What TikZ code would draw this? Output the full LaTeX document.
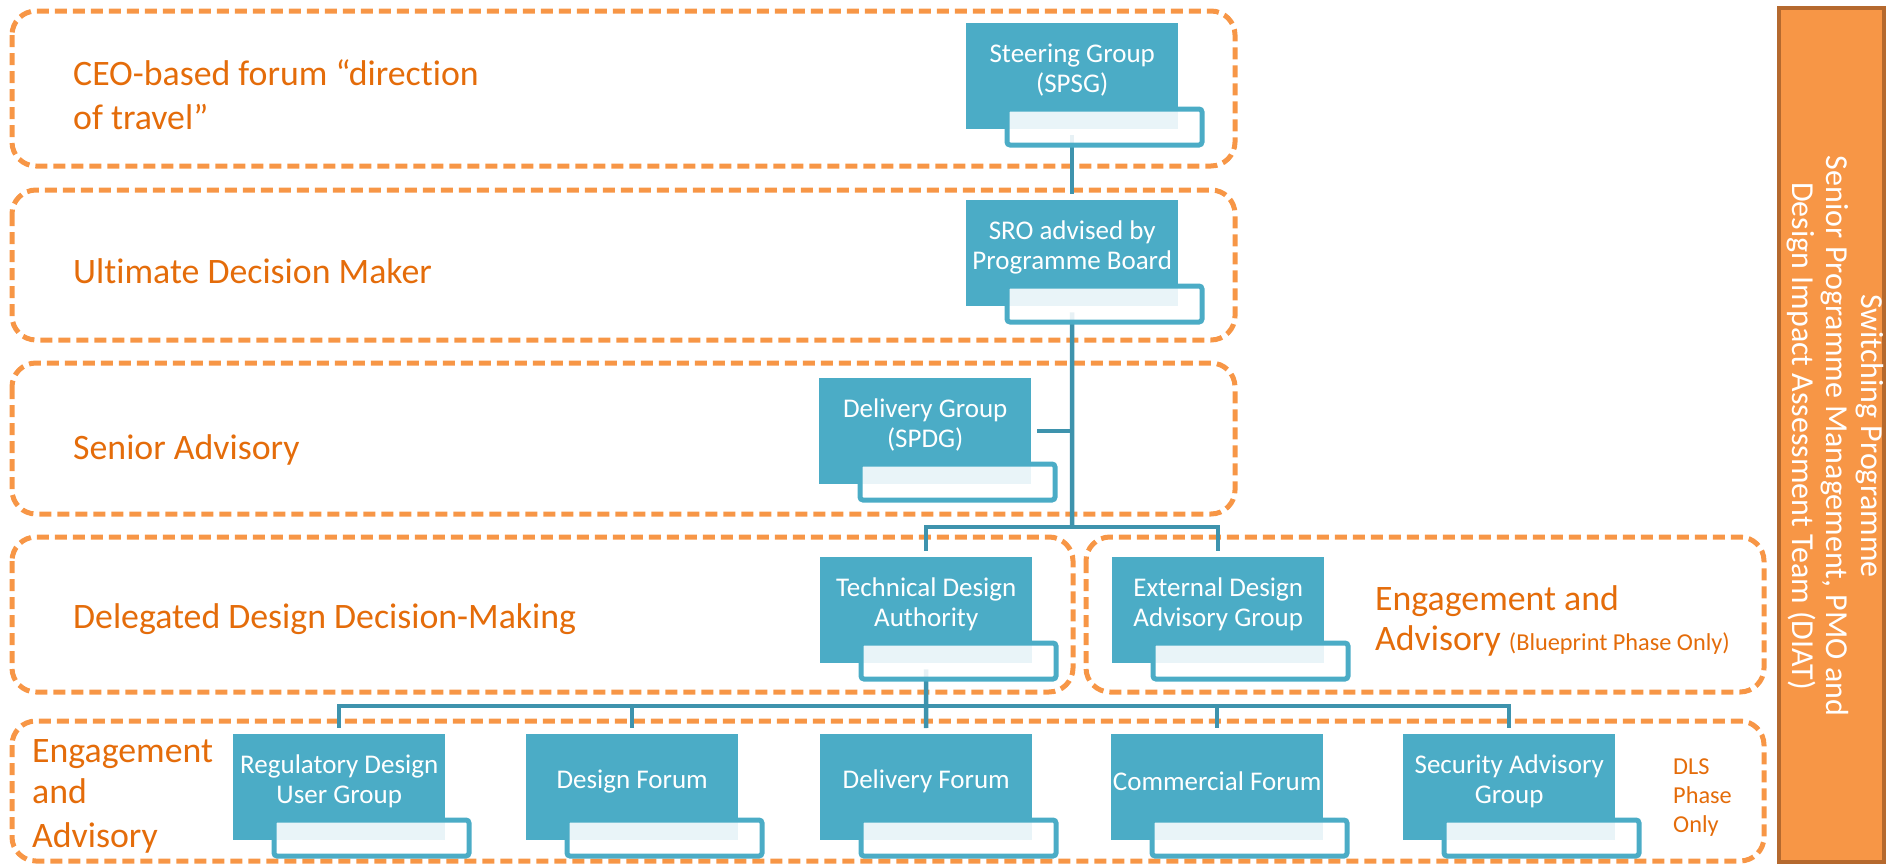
\documentclass[tikz,border=0pt]{standalone}
\usepackage{fontspec}
\setmainfont[Ligatures=NoCommon]{Carlito}
\usetikzlibrary{calc}
\pgfdeclarelayer{bg}
\pgfsetlayers{bg,main}

\definecolor{boxblue}{HTML}{4BACC6}
\definecolor{linkblue}{HTML}{3E93AD}
\definecolor{bandorange}{HTML}{F79646}
\definecolor{labelorange}{HTML}{E46C0A}
\definecolor{paneledge}{HTML}{B5692E}

\tikzset{
  band/.style={draw=bandorange, line width=5pt, dash pattern=on 12pt off 6pt, rounded corners=24pt},
  mainbox/.style={rectangle, fill=boxblue, minimum width=212pt, minimum height=106pt, inner sep=0pt, anchor=north west},
  boxtext/.style={text=white, align=center, font=\fontsize{27}{30.5}\selectfont, inner sep=0pt},
  subbox/.style={draw=boxblue, line width=5pt, fill=white, fill opacity=0.88, rounded corners=3pt},
  link/.style={draw=linkblue, line width=4.5pt},
  tierlabel/.style={text=labelorange, font=\fontsize{35.8}{42}\selectfont, anchor=base west, inner sep=0pt},
  smalllabel/.style={text=labelorange, font=\fontsize{24.3}{29}\selectfont, anchor=base west, inner sep=0pt},
  paneltext/.style={text=white, align=center, rotate=-90, font=\fontsize{32}{34.5}\selectfont, inner sep=0pt},
}

% main box with its caption and the offset name plate below it
\newcommand\orgbox[4]{%
  \node[mainbox] (#1) at (#2,#3) {};
  \node[boxtext] (#1-text) at ([yshift=6pt]#1.center) {#4};
  \path[subbox] ([xshift=41pt,yshift=-86pt]#1.north west) rectangle ([xshift=236pt,yshift=-122pt]#1.north west);
}

\begin{document}
\begin{tikzpicture}[x=1pt,y=-1pt]
\useasboundingbox (0,0) rectangle (1887,865);

% side panel
\draw[fill=bandorange, draw=paneledge, line width=4pt] (1779,8) rectangle (1884,862);
\node[paneltext] (panel) at (1835,436) {Switching Programme\\Senior Programme Management, PMO and\\Design Impact Assessment Team (DIAT)};

% tier labels
\node[tierlabel] (ceo1) at (73,85) {CEO-based forum “direction};
\node[tierlabel] (ceo2) at (73,129) {of travel”};
\node[tierlabel] (udm) at (73,283) {Ultimate Decision Maker};
\node[tierlabel] (sa) at (73,459) {Senior Advisory};
\node[tierlabel] (ddm) at (73,628) {Delegated Design Decision-Making};
\node[tierlabel] (ea1) at (1375,610) {Engagement and};
\node[tierlabel] (ea2) at (1375,650) {Advisory {\fontsize{24.3}{28}\selectfont(Blueprint Phase Only)}};
\node[tierlabel] (eb1) at (32,762) {Engagement};
\node[tierlabel] (eb2) at (32,803) {and};
\node[tierlabel] (eb3) at (32,847) {Advisory};
\node[smalllabel] (dls1) at (1673,774) {DLS};
\node[smalllabel] (dls2) at (1673,803) {Phase};
\node[smalllabel] (dls3) at (1673,832) {Only};

% governance bodies
\orgbox{spsg}{966}{23}{Steering Group\\(SPSG)}
\orgbox{sro}{966}{200}{SRO advised by\\Programme Board}
\orgbox{spdg}{819}{378}{Delivery Group\\(SPDG)}
\orgbox{tda}{820}{557}{Technical Design\\Authority}
\orgbox{edag}{1112}{557}{External Design\\Advisory Group}
\orgbox{rdug}{233}{734}{Regulatory Design\\User Group}
\orgbox{df}{526}{734}{Design Forum}
\orgbox{dlf}{820}{734}{Delivery Forum}
\orgbox{cf}{1111}{734}{Commercial Forum}
\orgbox{sag}{1403}{734}{Security Advisory\\Group}

\begin{pgfonlayer}{bg}
% tier bands
\draw[band] (12,11) rectangle (1235,166);
\draw[band] (12,190) rectangle (1235,340);
\draw[band] (12,363) rectangle (1235,514);
\draw[band] (12,537) rectangle (1073,692);
\draw[band] (1086,537) rectangle (1764,692);
\draw[band] (12,721) rectangle (1764,861);

% reporting lines
\coordinate (j1) at (1072,527);
\coordinate (j2) at (926,706);
\draw[link] ([yshift=-6pt]spsg.south) -- ([yshift=6pt]sro.north);
\draw[link] ([yshift=-6pt]sro.south) -- (j1);
\draw[link] ([xshift=6pt]spdg.east) -- (spdg.east -| j1);
\draw[link] (j1) -| ([yshift=6pt]tda.north);
\draw[link] (j1) -| ([yshift=6pt]edag.north);
\draw[link] ([yshift=-6pt]tda.south) -- (j2);
\draw[link] (j2) -| ([yshift=6pt]rdug.north);
\draw[link] (j2) -| ([yshift=6pt]df.north);
\draw[link] (j2) -- ([yshift=6pt]dlf.north);
\draw[link] (j2) -| ([yshift=6pt]cf.north);
\draw[link] (j2) -| ([yshift=6pt]sag.north);
\end{pgfonlayer}
\end{tikzpicture}
\end{document}
